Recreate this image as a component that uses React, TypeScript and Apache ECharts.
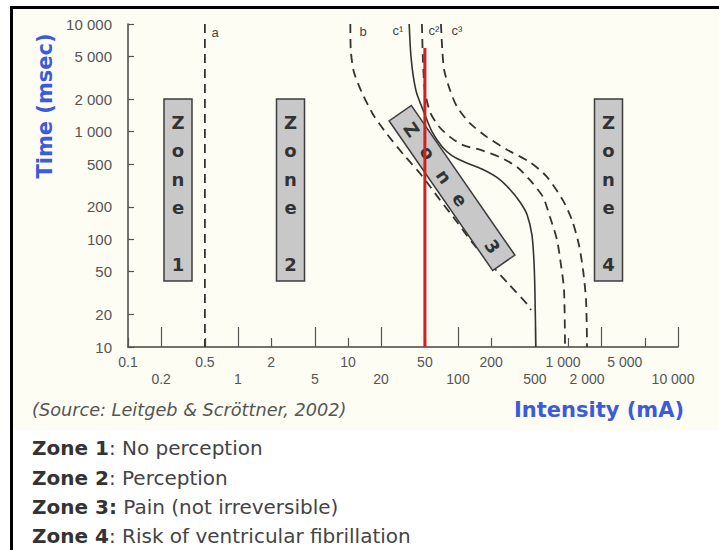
import React, { useEffect, useRef } from "react";
import * as echarts from "echarts";

// ---------- data ----------
const yTicks = [10, 20, 50, 100, 200, 500, 1000, 2000, 5000, 10000];
const yTickLabels = ["10", "20", "50", "100", "200", "500", "1 000", "2 000", "5 000", "10 000"];
const xTicksUpper = [0.1, 0.5, 2, 10, 50, 200, 1000, 5000];
const xLabelsUpper = ["0.1", "0.5", "2", "10", "50", "200", "1 000", "5 000"];
const xTicksLower = [0.2, 1, 5, 20, 100, 500, 2000, 10000];
const xLabelsLower = ["0.2", "1", "5", "20", "100", "500", "2 000", "10 000"];

// curves: [current mA, time ms]
const curveA = [[0.5, 10000], [0.5, 10]];
const curveB = [
  [10.5, 10000], [10.6, 5700], [11.3, 3600], [13.4, 2300], [17, 1430], [22.6, 950],
  [33, 590], [47, 390], [69, 230], [98, 145], [134, 94], [195, 60], [285, 39], [433, 24.5], [460, 22],
];
const curveC1 = [
  [36, 10000], [37, 5700], [39, 3400], [42, 2300], [48, 1600], [58, 1000], [72, 720],
  [88, 600], [116, 520], [165, 450], [231, 370], [297, 290], [366, 222], [424, 170],
  [470, 110], [490, 64], [500, 34], [510, 10],
];
const curveC2 = [
  [47, 10000], [48, 4600], [50, 2400], [56, 1500], [68, 1100], [85, 890], [111, 750],
  [158, 680], [240, 580], [344, 470], [450, 356], [593, 247], [686, 161], [794, 99],
  [863, 58], [920, 34], [940, 10],
];
const curveC3 = [
  [70, 10000], [72, 5700], [75, 3700], [85, 2400], [98, 1700], [128, 1200], [184, 890],
  [279, 680], [452, 520], [644, 380], [900, 230], [1090, 150], [1260, 88], [1370, 52],
  [1460, 27], [1490, 10],
];
const redLine = [[50, 10], [50, 6000]];

const curveNames = ["a", "b", "c¹", "c²", "c³"];
const zoneNumbers = ["1", "2", "3", "4"];
const legendZones = ["Zone 1", "Zone 2", "Zone 3:", "Zone 4"];
const legendDescs = [": No perception", ": Perception", " Pain (not irreversible)", ": Risk of ventricular fibrillation"];
const sourceText = "(Source: Leitgeb & Scröttner, 2002)";
const yTitle = "Time (msec)";
const xTitle = "Intensity (mA)";

// ---------- styles / layout ----------
const GRID = { left: 128, right: 41, top: 24, bottom: 203 };
const LABEL_SHIFT: Record<string, number> = { "1 000": 5, "5 000": 20, "2 000": 14, "10 000": 5 };
const TICK_FONT = "Liberation Sans";
const TEXT_FONT = "DejaVu Sans";
const BLUE = "#3b5bdb";
const CURVE_COLOR = "#333";
const DASH = [9, 6];

const lg = (v: number) => Math.log10(v);
const toLog = (pts: number[][]) => pts.map(([x, y]) => [lg(x), lg(y)]);

const shiftRich: Record<string, any> = {};
Object.values(LABEL_SHIFT).forEach((s) => {
  shiftRich["s" + s] = {
    padding: [0, s * 2, 0, 0],
    fontSize: 14,
    fontFamily: TICK_FONT,
    color: "#555",
  };
});

const makeFmt = (ticks: number[], labels: string[], shift: boolean) => (v: number) => {
  const i = ticks.findIndex((t) => Math.abs(lg(t) - v) < 1e-4);
  if (i < 0) return "";
  const s = labels[i];
  const sh = shift ? LABEL_SHIFT[s] : undefined;
  return sh ? `{s${sh}|${s}}` : s;
};

const zoneLetterOffsets = [-68, -40, -11, 17, 46, 74];
const zoneBoxes = [
  { cx: 178, cy: 190 },
  { cx: 290.5, cy: 190 },
  { cx: 452, cy: 188, rot: -0.965 },
  { cx: 608.5, cy: 190 },
];
const curveLabelPos = [
  [215, 32], [363, 31], [398, 30], [434, 30], [457, 30],
];
const legendY = [448, 478, 507, 536];

function buildGraphic() {
  const els: any[] = [];
  const boxStyle = { fill: "#c8c8c8", stroke: "#3c3c3c", lineWidth: 1.5 };
  const letterStyle = {
    fontSize: 18,
    fontWeight: "bold",
    fontFamily: TEXT_FONT,
    fill: "#333",
    align: "center",
    verticalAlign: "middle",
  };
  zoneBoxes.forEach((b, zi) => {
    const letters = ["Z", "o", "n", "e", "", zoneNumbers[zi]];
    if (b.rot === undefined) {
      const children: any[] = [
        { type: "rect", z: 5, shape: { x: -14, y: -91, width: 28, height: 182 }, style: boxStyle },
      ];
      letters.forEach((l, i) => {
        if (!l) return;
        children.push({ type: "text", z: 6, x: 0, y: zoneLetterOffsets[i], style: { ...letterStyle, text: l } });
      });
      els.push({ type: "group", x: b.cx, y: b.cy, z: 5, children });
    } else {
      const children: any[] = [
        { type: "rect", z: 5, shape: { x: -91, y: -13.5, width: 182, height: 27 }, style: boxStyle },
      ];
      const off = [-71, -43, -14, 14, 43, 71];
      letters.forEach((l, i) => {
        if (!l) return;
        children.push({ type: "text", z: 6, x: off[i], y: 0, style: { ...letterStyle, text: l } });
      });
      els.push({ type: "group", x: b.cx, y: b.cy, rotation: b.rot, z: 5, children });
    }
  });
  curveNames.forEach((n, i) => {
    els.push({
      type: "text",
      x: curveLabelPos[i][0],
      y: curveLabelPos[i][1],
      z: 6,
      style: {
        text: n,
        fontSize: 13,
        fontFamily: TICK_FONT,
        fill: "#444",
        align: "center",
        verticalAlign: "middle",
      },
    });
  });
  els.push({
    type: "text",
    x: 45,
    y: 106,
    rotation: Math.PI / 2,
    style: {
      text: yTitle,
      fontSize: 21,
      fontWeight: "bold",
      fontFamily: TEXT_FONT,
      fill: BLUE,
      align: "center",
      verticalAlign: "middle",
    },
  });
  els.push({
    type: "text",
    x: 599,
    y: 410,
    style: {
      text: xTitle,
      fontSize: 21,
      fontWeight: "bold",
      fontFamily: TEXT_FONT,
      fill: BLUE,
      align: "center",
      verticalAlign: "middle",
    },
  });
  els.push({
    type: "text",
    x: 32,
    y: 410,
    style: {
      text: sourceText,
      fontSize: 17.7,
      fontStyle: "italic",
      fontFamily: TEXT_FONT,
      fill: "#555",
      align: "left",
      verticalAlign: "middle",
    },
  });
  legendZones.forEach((z, i) => {
    els.push({
      type: "text",
      x: 32,
      y: legendY[i],
      style: {
        text: `{b|${z}}{r|${legendDescs[i]}}`,
        align: "left",
        verticalAlign: "middle",
        rich: {
          b: { fontSize: 20, fontWeight: "bold", fontFamily: TEXT_FONT, fill: "#333", color: "#333" },
          r: { fontSize: 20, fontFamily: TEXT_FONT, fill: "#444", color: "#444" },
        },
      },
    });
  });
  return els;
}

function lineSeries(name: string, pts: number[][], dashed: boolean, extra: any = {}) {
  return {
    type: "line",
    name,
    data: toLog(pts),
    symbol: "none",
    smooth: 0.25,
    silent: true,
    z: 2,
    lineStyle: { color: CURVE_COLOR, width: dashed ? 1.8 : 1.6, type: dashed ? DASH : "solid" },
    ...extra,
  };
}

function xAxisDef(ticks: number[], labels: string[], tickLen: number, margin: number, showLine: boolean) {
  const vals = ticks.map(lg);
  return {
    type: "value",
    min: -1,
    max: 4,
    position: "bottom",
    axisLine: { show: showLine, onZero: false, lineStyle: { color: "#444", width: 1.5 } },
    axisTick: { show: true, inside: true, length: tickLen, customValues: vals, lineStyle: { color: "#555", width: 1.2 } },
    axisLabel: {
      customValues: vals,
      formatter: makeFmt(ticks, labels, true),
      margin,
      fontSize: 14,
      fontFamily: TICK_FONT,
      color: "#555",
      rich: shiftRich,
    },
    splitLine: { show: false },
  };
}

const option: any = {
  animation: false,
  backgroundColor: "transparent",
  grid: { ...GRID, outerBoundsMode: "none", containLabel: false },
  xAxis: [
    xAxisDef(xTicksUpper, xLabelsUpper, 9, 8, true),
    xAxisDef(xTicksLower, xLabelsLower, 20, 25, false),
  ],
  yAxis: {
    type: "value",
    min: 1,
    max: 4,
    axisLine: { show: true, onZero: false, lineStyle: { color: "#444", width: 1.5 } },
    axisTick: { show: true, inside: true, length: 6, customValues: yTicks.map(lg), lineStyle: { color: "#555", width: 1.2 } },
    axisLabel: {
      customValues: yTicks.map(lg),
      formatter: makeFmt(yTicks, yTickLabels, false),
      margin: 16,
      fontSize: 15,
      fontFamily: TICK_FONT,
      color: "#555",
    },
    splitLine: { show: false },
  },
  series: [
    lineSeries("a", curveA, true, { smooth: false }),
    lineSeries("b", curveB, true),
    lineSeries("c1", curveC1, false),
    lineSeries("c2", curveC2, true),
    lineSeries("c3", curveC3, true),
    lineSeries("red", redLine, false, { smooth: false, z: 10, lineStyle: { color: "#d21f1f", width: 3 } }),
  ],
  graphic: { elements: buildGraphic() },
};

export default function App() {
  const ref = useRef<HTMLDivElement>(null);
  useEffect(() => {
    document.body.style.margin = "0";
    const chart = echarts.init(ref.current!, null, { renderer: "svg" });
    chart.setOption(option);
    return () => chart.dispose();
  }, []);
  return (
    <div style={{ position: "relative", width: 719, height: 550, background: "#fff", overflow: "hidden" }}>
      <div style={{ position: "absolute", left: 12, top: 8, width: 707, height: 422, background: "#fdfdf3" }} />
      <div style={{ position: "absolute", left: 10, top: 6, width: 709, height: 3, background: "#000" }} />
      <div style={{ position: "absolute", left: 10, top: 6, width: 3, height: 544, background: "#000" }} />
      <div ref={ref} style={{ position: "absolute", left: 0, top: 0, width: 719, height: 550 }} />
    </div>
  );
}
